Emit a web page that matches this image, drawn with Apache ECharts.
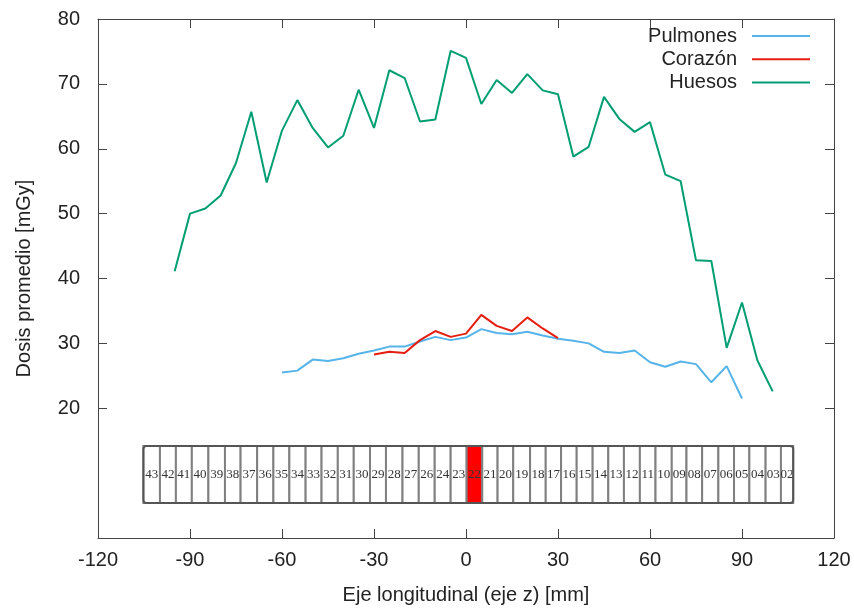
<!DOCTYPE html>
<html>
<head>
<meta charset="utf-8">
<script src="https://cdn.jsdelivr.net/npm/echarts@6/dist/echarts.min.js"></script>
<style>
    html, body {margin: 0; padding: 0; background: #fff;}
    #chart {width: 854px; height: 608px;}
</style>
</head>
<body>
<div id="chart"></div>
<script>
// datos
let huesosX = [-95, -90, -85, -80, -75, -70, -65, -60, -55, -50, -45, -40, -35, -30, -25, -20, -15, -10, -5, 0,
    5, 10, 15, 20, 25, 30, 35, 40, 45, 50, 55, 60, 65, 70, 75, 80, 85, 90, 95, 100];
let huesosY = [41.1, 50.0, 50.8, 52.8, 57.8, 65.7, 54.8, 62.8, 67.5, 63.2, 60.2, 62.0, 69.1, 63.2, 72.1, 70.9, 64.2, 64.5, 75.1, 74.0,
    66.9, 70.6, 68.6, 71.5, 69.0, 68.4, 58.8, 60.3, 68.0, 64.6, 62.6, 64.1, 56.0, 55.0, 42.8, 42.7, 29.3, 36.3, 27.4, 22.6];

let pulmonesX = [-60, -55, -50, -45, -40, -35, -30, -25, -20, -15, -10, -5, 0, 5, 10, 15,
    20, 25, 30, 35, 40, 45, 50, 55, 60, 65, 70, 75, 80, 85, 90];
let pulmonesY = [25.5, 25.8, 27.5, 27.3, 27.7, 28.4, 28.9, 29.5, 29.5, 30.3, 31.0, 30.5, 30.9, 32.2, 31.6, 31.4,
    31.8, 31.2, 30.7, 30.4, 30.0, 28.7, 28.5, 28.9, 27.1, 26.4, 27.2, 26.8, 24.0, 26.5, 21.5];

let corazonX = [-30, -25, -20, -15, -10, -5, 0, 5, 10, 15, 20, 25, 30];
let corazonY = [28.3, 28.7, 28.5, 30.5, 31.9, 31.0, 31.5, 34.4, 32.7, 31.9, 34.0, 32.3, 30.8];

let xTicks = [-120, -90, -60, -30, 0, 30, 60, 90, 120];
let yTicks = [20, 30, 40, 50, 60, 70, 80];

// cortes del fantoma (bordes en mm)
let cellLabels = ['43', '42', '41', '40', '39', '38', '37', '36', '35', '34', '33', '32', '31', '30', '29', '28', '27', '26', '24', '23',
    '22', '21', '20', '19', '18', '17', '16', '15', '14', '13', '12', '11', '10', '09', '08', '07', '06', '05', '04', '03', '02'];
let cellEdges = [-105.2, -99.8, -94.6, -89.4, -84.0, -78.6, -73.5, -68.1, -62.8, -57.6, -52.3, -47.1, -41.8, -36.6, -31.3, -26.1,
    -20.7, -15.4, -10.2, -5.0, 0.2, 5.3, 10.3, 15.4, 20.9, 26.0, 31.0, 36.1, 41.3, 46.4, 51.5, 56.7, 61.8, 67.1, 71.9, 77.0,
    82.3, 87.4, 92.4, 97.7, 102.7, 106.7];
let activeCell = '22';
let boxLow = 5.4;
let boxHigh = 14.2;

let legendNames = ['Pulmones', 'Corazón', 'Huesos'];
let colors = {'Pulmones': '#56b4e9', 'Corazón': '#e51e10', 'Huesos': '#009e73'};

function pairs(xs, ys) {
    let out = [];
    for (let i = 0; i < xs.length; i++) out.push([xs[i], ys[i]]);
    return out;
}

let textColor = '#222';
let frameColor = '#444';
let font = 'Liberation Sans';

function lineSeries(name, xs, ys) {
    return {
        name: name,
        type: 'line',
        data: pairs(xs, ys),
        showSymbol: false,
        lineStyle: {color: colors[name], width: 2},
        itemStyle: {color: colors[name]},
        animation: false
    };
}

let cellData = cellLabels.map((lab, i) => [cellEdges[i], cellEdges[i + 1], i]);

function renderCell(params, api) {
    let p0 = api.coord([api.value(0), boxHigh]);
    let p1 = api.coord([api.value(1), boxLow]);
    let lab = cellLabels[api.value(2)];
    return {
        type: 'group',
        children: [{
            type: 'rect',
            shape: {x: p0[0], y: p0[1], width: p1[0] - p0[0], height: p1[1] - p0[1]},
            style: {fill: lab === activeCell ? '#ff0000' : '#fff', stroke: '#808080', lineWidth: 2}
        }, {
            type: 'text',
            style: {
                text: lab, x: (p0[0] + p1[0]) / 2, y: (p0[1] + p1[1]) / 2,
                align: 'center', verticalAlign: 'middle',
                font: '13px "Liberation Serif"', fill: '#333'
            }
        }]
    };
}

function renderBox(params, api) {
    let p0 = api.coord([api.value(0), boxHigh]);
    let p1 = api.coord([api.value(1), boxLow]);
    return {
        type: 'rect',
        shape: {x: p0[0], y: p0[1], width: p1[0] - p0[0], height: p1[1] - p0[1], r: 3},
        style: {fill: 'none', stroke: '#555', lineWidth: 2}
    };
}

let chart = echarts.init(document.getElementById('chart'));

let option = {
    backgroundColor: '#fff',
    animation: false,
    textStyle: {fontFamily: font},
    grid: {left: 98, right: 20, top: 19, bottom: 70, containLabel: false, outerBoundsMode: 'none'},
    legend: legendNames.map((name, i) => ({
        data: [name],
        orient: 'vertical',
        align: 'right',
        right: 44,
        top: 26 + i * 23.3,
        padding: 0,
        icon: 'rect',
        itemWidth: 58,
        itemHeight: 2,
        selectedMode: false,
        textStyle: {fontSize: 20, color: textColor, fontFamily: font, padding: [0, 10, 0, 0]}
    })),
    xAxis: [{
        type: 'value',
        min: -120, max: 120, interval: 30,
        position: 'bottom',
        name: 'Eje longitudinal (eje z) [mm]',
        nameLocation: 'middle',
        nameGap: 47,
        nameTextStyle: {fontSize: 20, color: textColor, fontFamily: font},
        axisLine: {show: true, onZero: false, lineStyle: {color: frameColor, width: 1}},
        axisTick: {show: true, inside: true, length: 9, lineStyle: {color: frameColor}},
        axisLabel: {fontSize: 20, color: textColor, margin: 12, fontFamily: font,
            customValues: xTicks},
        splitLine: {show: false}
    }, {
        type: 'value',
        min: -120, max: 120, interval: 30,
        position: 'top',
        axisLine: {show: true, onZero: false, lineStyle: {color: frameColor, width: 1}},
        axisTick: {show: true, inside: true, length: 9, lineStyle: {color: frameColor}},
        axisLabel: {show: false},
        splitLine: {show: false}
    }],
    yAxis: [{
        type: 'value',
        min: 0, max: 80, interval: 10,
        position: 'left',
        name: 'Dosis promedio [mGy]',
        nameLocation: 'middle',
        nameGap: 64,
        nameTextStyle: {fontSize: 20, color: textColor, fontFamily: font},
        axisLine: {show: true, onZero: false, lineStyle: {color: frameColor, width: 1}},
        axisTick: {show: true, inside: true, length: 9, lineStyle: {color: frameColor},
            customValues: yTicks},
        axisLabel: {fontSize: 20, color: textColor, margin: 18, fontFamily: font,
            customValues: yTicks},
        splitLine: {show: false}
    }, {
        type: 'value',
        min: 0, max: 80, interval: 10,
        position: 'right',
        axisLine: {show: true, onZero: false, lineStyle: {color: frameColor, width: 1}},
        axisTick: {show: true, inside: true, length: 9, lineStyle: {color: frameColor},
            customValues: yTicks},
        axisLabel: {show: false},
        splitLine: {show: false}
    }],
    series: [
        lineSeries('Pulmones', pulmonesX, pulmonesY),
        lineSeries('Corazón', corazonX, corazonY),
        lineSeries('Huesos', huesosX, huesosY),
        {
            name: 'cortes',
            type: 'custom',
            renderItem: renderCell,
            data: cellData,
            encode: {x: [0, 1]},
            silent: true,
            z: 3
        },
        {
            name: 'caja',
            type: 'custom',
            renderItem: renderBox,
            data: [[cellEdges[0], cellEdges[cellEdges.length - 1]]],
            encode: {x: [0, 1]},
            silent: true,
            z: 4
        }
    ]
};

chart.setOption(option);
</script>
</body>
</html>
